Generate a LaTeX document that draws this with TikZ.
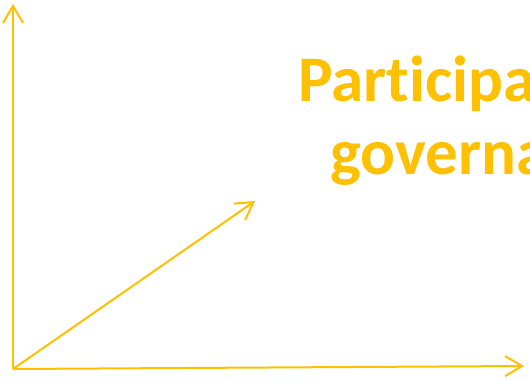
\documentclass[tikz,border=0pt]{standalone}
\usepackage{fontspec}
\setmainfont[Ligatures=NoCommon]{Carlito}
\usetikzlibrary{arrows.meta}
\definecolor{gold}{HTML}{FFC000}

\begin{document}
\begin{tikzpicture}[x=1pt,y=-1pt,
  axisarrow/.style={draw=gold,line width=2pt,-{Straight Barb[length=17pt,width=20pt,line width=2pt]}},
  titleline/.style={anchor=base west,inner sep=0pt,text=gold,font=\fontsize{65}{73}\selectfont\bfseries}]
  \useasboundingbox (0,0) rectangle (530,382);
  \clip (0,0) rectangle (530,382);
  \coordinate (origin) at (13,369);
  \coordinate (ytip) at (13,4);
  \coordinate (xtip) at (524,366);
  \coordinate (ztip) at (255,201);
  \draw[axisarrow] (origin) -- (ytip);
  \draw[axisarrow] (origin) -- (xtip);
  \draw[axisarrow] (origin) -- (ztip);
  \node (title1) [titleline] at (298,102) {Participatory};
  \node (title2) [titleline] at (330,175) {governance};
\end{tikzpicture}
\end{document}
